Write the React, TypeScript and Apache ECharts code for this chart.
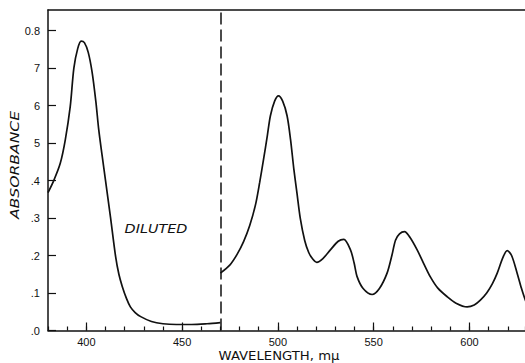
import { useEffect, useRef } from "react";
import * as echarts from "echarts";

// Axis ticks and their printed labels
const wavelengthTicks = [400, 450, 500, 550, 600];
const absorbanceTicks = [0, 0.1, 0.2, 0.3, 0.4, 0.5, 0.6, 0.7, 0.8];
const absorbanceLabels = [".0", ".1", ".2", ".3", ".4", "5", "6", "7", "0.8"];

// Wavelength (mμ) where the diluted measurement ends
const dilutionBoundary = 470;

// Diluted sample, 380–470 mμ: [wavelength, absorbance]
const dilutedSpectrum: [number, number][] = [
  [380, 0.368], [383, 0.4], [386.4, 0.446], [389, 0.508], [391.6, 0.597],
  [393.5, 0.7], [395.5, 0.752], [397.3, 0.772], [399, 0.768], [401, 0.742],
  [403, 0.69], [405, 0.61], [406.5, 0.535], [408.3, 0.465], [410, 0.401],
  [412.6, 0.303], [415.3, 0.197], [417, 0.15], [418.8, 0.117], [421, 0.085],
  [423, 0.063], [425.5, 0.048], [428.4, 0.037], [434, 0.024], [440, 0.018],
  [447, 0.016], [455, 0.016], [463, 0.018], [470, 0.021],
];

// Undiluted sample, 470 mμ onward: [wavelength, absorbance]
const fullSpectrum: [number, number][] = [
  [470, 0.153], [475, 0.175], [478.7, 0.203], [482.1, 0.237], [485.3, 0.28],
  [488.3, 0.335], [490.5, 0.395], [492.6, 0.459], [494.5, 0.52], [496.1, 0.573],
  [498.3, 0.612], [500.3, 0.626], [502.5, 0.612], [504.8, 0.573], [506.6, 0.51],
  [508.3, 0.432], [510, 0.365], [511.7, 0.299], [514, 0.24], [516.1, 0.208],
  [518.3, 0.19], [520.3, 0.182], [523.5, 0.192], [527.4, 0.215], [531.5, 0.238],
  [534.4, 0.243], [537.9, 0.215], [539.8, 0.18], [541.4, 0.143], [544.5, 0.112],
  [549.2, 0.096], [553, 0.112], [557, 0.153], [559.5, 0.2], [561.4, 0.241],
  [563.5, 0.258], [566.1, 0.264], [569, 0.248], [572.7, 0.215], [576, 0.18],
  [579.6, 0.143], [583.5, 0.113], [588.4, 0.09], [593, 0.073], [598.8, 0.063],
  [602.5, 0.068], [605.7, 0.081], [609, 0.1], [612, 0.125], [614.5, 0.153],
  [617.5, 0.195], [619.7, 0.213], [622, 0.2], [624.9, 0.153], [627, 0.115],
  [629.2, 0.081], [632, 0.05],
];

const INK = "#111";
const LABEL_FONT = "Liberation Sans";

export default function App() {
  const ref = useRef<HTMLDivElement>(null);

  useEffect(() => {
    if (!ref.current) return;
    const chart = echarts.init(ref.current, null, { renderer: "svg" });

    const axisLine = { show: true, onZero: false, lineStyle: { color: INK, width: 1.5 } };
    const tickLine = { color: INK, width: 1.2 };

    chart.setOption({
      animation: false,
      backgroundColor: "#fff",
      grid: { left: 48, top: 10, right: 0, bottom: 32.5 },
      xAxis: [
        {
          type: "value",
          min: 380,
          max: 629,
          position: "bottom",
          axisLine,
          axisTick: { show: true, inside: true, length: 8, customValues: wavelengthTicks, lineStyle: tickLine },
          axisLabel: {
            show: true,
            customValues: wavelengthTicks,
            margin: 6,
            color: INK,
            fontSize: 11,
            fontFamily: LABEL_FONT,
          },
          splitLine: { show: false },
        },
        {
          // minor ticks every 10 mμ
          type: "value",
          min: 380,
          max: 629,
          interval: 10,
          position: "bottom",
          axisLine: { show: false, onZero: false },
          axisTick: { show: true, inside: true, length: 4, lineStyle: tickLine },
          axisLabel: { show: false },
          splitLine: { show: false },
        },
        {
          // top frame
          type: "value",
          min: 380,
          max: 629,
          position: "top",
          axisLine,
          axisTick: { show: false },
          axisLabel: { show: false },
          splitLine: { show: false },
        },
      ],
      yAxis: {
        type: "value",
        min: 0,
        max: 0.855,
        axisLine,
        axisTick: { show: true, inside: true, length: 8, customValues: absorbanceTicks, lineStyle: tickLine },
        axisLabel: {
          show: true,
          customValues: absorbanceTicks,
          margin: 8,
          color: INK,
          fontSize: 11,
          fontFamily: LABEL_FONT,
          formatter: (v: number) => absorbanceLabels[Math.round(v * 10)] ?? "",
        },
        splitLine: { show: false },
      },
      series: [
        {
          type: "line",
          xAxisIndex: 0,
          data: dilutedSpectrum,
          smooth: 0.3,
          symbol: "none",
          clip: true,
          lineStyle: { color: INK, width: 1.7 },
        },
        {
          type: "line",
          xAxisIndex: 0,
          data: fullSpectrum,
          smooth: 0.3,
          symbol: "none",
          clip: true,
          lineStyle: { color: INK, width: 1.7 },
          markLine: {
            silent: true,
            symbol: ["none", "none"],
            label: { show: false },
            lineStyle: { type: [12, 5], color: INK, width: 1.5 },
            data: [{ xAxis: dilutionBoundary }],
          },
        },
      ],
      graphic: [
        {
          type: "text",
          x: 15,
          y: 165,
          rotation: Math.PI / 2,
          scaleX: 1.3,
          style: {
            text: "ABSORBANCE",
            font: 'italic 12px "DejaVu Sans"',
            fill: INK,
            align: "center",
            verticalAlign: "middle",
          },
        },
        {
          type: "text",
          x: 156,
          y: 229,
          scaleX: 1.2,
          style: {
            text: "DILUTED",
            font: 'italic 12px "DejaVu Sans"',
            fill: INK,
            align: "center",
            verticalAlign: "middle",
          },
        },
        {
          type: "text",
          x: 279,
          y: 356,
          scaleX: 1.15,
          style: {
            text: "WAVELENGTH, mμ",
            font: '11.5px "DejaVu Sans"',
            fill: INK,
            align: "center",
            verticalAlign: "middle",
          },
        },
      ],
    });

    return () => chart.dispose();
  }, []);

  return (
    <div
      ref={ref}
      style={{ position: "fixed", left: 0, top: 0, width: 525, height: 363, background: "#fff" }}
    />
  );
}
